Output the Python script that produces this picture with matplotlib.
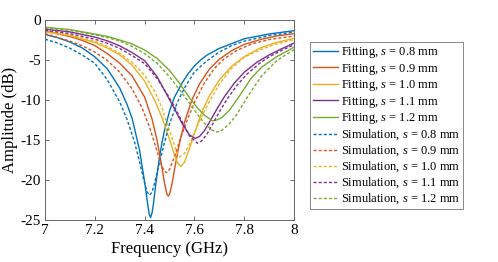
import matplotlib
matplotlib.use("Agg")
import matplotlib.pyplot as plt

plt.rcParams['font.family'] = 'Liberation Serif'
plt.rcParams['mathtext.fontset'] = 'custom'
plt.rcParams['mathtext.rm'] = 'Liberation Serif'
plt.rcParams['mathtext.it'] = 'Liberation Serif:italic'
plt.rcParams['axes.unicode_minus'] = False

# gap values (mm) and MATLAB default colours
gaps = ['0.8', '0.9', '1.0', '1.1', '1.2']
colors = ['#0072BD', '#D95319', '#EDB120', '#7E2F8E', '#77AC30']

# fitting curves (frequency in GHz, amplitude in dB)
fit08_f = [7.0, 7.05, 7.1, 7.15, 7.2, 7.25, 7.3, 7.33, 7.35, 7.365, 7.38, 7.39, 7.40, 7.41, 7.418, 7.424,
           7.43, 7.435, 7.445, 7.46, 7.47, 7.48, 7.50, 7.52, 7.55, 7.575, 7.60, 7.625, 7.65, 7.70, 7.80, 7.90, 8.0]
fit08_db = [-1.8, -2.2, -2.75, -3.5, -4.6, -6.1, -8.5, -10.6, -12.3, -14.3, -16.3, -18.3, -20.2, -22.5, -24.2, -24.7,
            -24.1, -23.1, -20.5, -17.1, -15.3, -13.8, -11.4, -9.65, -7.9, -6.7, -5.75, -5.0, -4.4, -3.55, -2.35, -1.75, -1.33]

fit09_f = [7.0, 7.1, 7.15, 7.2, 7.25, 7.3, 7.35, 7.40, 7.43, 7.45, 7.47, 7.48, 7.49, 7.495, 7.50, 7.51,
           7.52, 7.54, 7.56, 7.59, 7.62, 7.66, 7.70, 7.75, 7.80, 7.87, 7.93, 8.0]
fit09_db = [-1.4, -2.07, -2.55, -3.2, -4.19, -5.4, -7.0, -9.63, -12.4, -15.0, -18.5, -20.4, -21.8, -22.0, -21.8, -20.5,
            -18.7, -15.4, -12.8, -10.0, -8.02, -6.14, -4.91, -3.82, -3.05, -2.4, -2.0, -1.7]

fit10_f = [7.0, 7.1, 7.2, 7.25, 7.3, 7.35, 7.40, 7.44, 7.47, 7.50, 7.52, 7.535, 7.546, 7.56, 7.58, 7.60,
           7.63, 7.66, 7.70, 7.75, 7.80, 7.866, 7.93, 8.0]
fit10_db = [-1.5, -1.95, -2.81, -3.5, -4.36, -5.66, -7.64, -10.0, -12.2, -14.9, -16.9, -18.0, -18.3, -17.8, -16.1, -14.15,
            -11.5, -9.5, -7.5, -5.77, -4.58, -3.47, -2.8, -2.3]

fit11_f = [7.0, 7.1, 7.2, 7.25, 7.3, 7.35, 7.40, 7.45, 7.49, 7.52, 7.55, 7.58, 7.603, 7.62, 7.64, 7.66,
           7.69, 7.72, 7.76, 7.80, 7.85, 7.90, 7.95, 8.0]
fit11_db = [-1.15, -1.49, -2.13, -2.6, -3.23, -4.08, -5.08, -7.08, -9.37, -11.1, -12.9, -14.36, -14.8, -14.57, -13.84, -12.8,
            -11.15, -9.61, -7.9, -6.54, -5.3, -4.37, -3.6, -2.9]

fit12_f = [7.0, 7.1, 7.2, 7.25, 7.3, 7.35, 7.40, 7.45, 7.50, 7.54, 7.58, 7.61, 7.64, 7.672, 7.69, 7.71,
           7.74, 7.77, 7.80, 7.83, 7.87, 7.93, 8.0]
fit12_db = [-0.9, -1.2, -1.75, -2.05, -2.5, -3.0, -3.75, -4.8, -6.3, -7.9, -9.7, -10.9, -11.9, -12.6, -12.5, -12.2,
            -11.3, -10.0, -8.6, -7.2, -5.9, -4.6, -3.4]

# simulation curves
sim08_f = [7.0, 7.05, 7.1, 7.15, 7.2, 7.25, 7.3, 7.33, 7.36, 7.38, 7.40, 7.41, 7.42, 7.43, 7.44, 7.46,
           7.48, 7.50, 7.53, 7.56, 7.60, 7.65, 7.70, 7.75, 7.80, 7.90, 8.0]
sim08_db = [-2.4, -2.87, -3.52, -4.39, -5.41, -7.46, -10.25, -12.46, -15.3, -17.75, -20.4, -21.5, -21.9, -21.5, -20.4, -17.75,
            -15.3, -13.0, -10.4, -8.5, -6.5, -5.1, -4.0, -3.2, -2.65, -1.95, -1.5]

sim09_f = [7.0, 7.1, 7.15, 7.2, 7.25, 7.3, 7.35, 7.39, 7.42, 7.45, 7.47, 7.487, 7.50, 7.52, 7.54, 7.57,
           7.60, 7.64, 7.68, 7.72, 7.77, 7.83, 7.9, 8.0]
sim09_db = [-1.7, -2.65, -3.23, -4.01, -5.06, -6.52, -8.61, -11.0, -13.4, -16.4, -18.4, -19.1, -18.7, -17.1, -15.2, -12.6,
            -10.3, -7.87, -6.06, -4.84, -3.8, -3.0, -2.45, -2.0]

sim10_f = [7.0, 7.1, 7.2, 7.25, 7.3, 7.35, 7.40, 7.44, 7.47, 7.50, 7.52, 7.53, 7.542, 7.56, 7.58, 7.60,
           7.63, 7.66, 7.70, 7.75, 7.80, 7.87, 7.93, 8.0]
sim10_db = [-1.37, -1.85, -2.65, -3.3, -4.15, -5.3, -6.9, -8.9, -11.0, -13.8, -15.7, -16.6, -17.1, -16.7, -15.55, -14.1,
            -12.0, -10.2, -8.02, -6.01, -4.65, -3.65, -3.0, -2.45]

sim11_f = [7.0, 7.1, 7.2, 7.25, 7.3, 7.35, 7.40, 7.45, 7.49, 7.52, 7.55, 7.58, 7.612, 7.63, 7.65, 7.67,
           7.70, 7.73, 7.77, 7.81, 7.86, 7.90, 7.95, 8.0]
sim11_db = [-1.3, -1.7, -2.4, -2.9, -3.55, -4.45, -5.45, -7.3, -9.23, -10.83, -12.68, -14.48, -15.4, -15.1, -14.3, -13.2,
            -11.5, -9.95, -8.2, -6.8, -5.45, -4.6, -3.8, -3.1]

sim12_f = [7.0, 7.1, 7.2, 7.25, 7.3, 7.35, 7.40, 7.45, 7.50, 7.54, 7.58, 7.61, 7.64, 7.67, 7.69, 7.71,
           7.74, 7.77, 7.80, 7.83, 7.87, 7.93, 8.0]
sim12_db = [-1.0, -1.3, -1.85, -2.2, -2.65, -3.3, -4.2, -5.4, -7.1, -8.7, -10.4, -11.7, -12.9, -13.75, -14.0, -13.8,
            -13.0, -11.8, -10.3, -8.8, -7.0, -5.1, -3.7]

fits = [(fit08_f, fit08_db), (fit09_f, fit09_db), (fit10_f, fit10_db), (fit11_f, fit11_db), (fit12_f, fit12_db)]
sims = [(sim08_f, sim08_db), (sim09_f, sim09_db), (sim10_f, sim10_db), (sim11_f, sim11_db), (sim12_f, sim12_db)]

fig = plt.figure(figsize=(4.98, 2.62), dpi=100)
ax = fig.add_axes([45/498, 1-220/262, 249/498, 200/262])

for (f, db), g, c in zip(fits, gaps, colors):
    ax.plot(f, db, color=c, lw=1.0, label='Fitting, $s$ = %s mm' % g)
for (f, db), g, c in zip(sims, gaps, colors):
    ax.plot(f, db, color=c, lw=1.0, linestyle=(0, (2.2, 1.5)), label='Simulation, $s$ = %s mm' % g)

ax.set_xlim(7, 8)
ax.set_ylim(-25, 0)
ax.set_xticks([7, 7.2, 7.4, 7.6, 7.8, 8])
ax.set_xticklabels(['7', '7.2', '7.4', '7.6', '7.8', '8'])
ax.set_yticks([-25, -20, -15, -10, -5, 0])
ax.tick_params(direction='in', top=True, right=True, length=3, width=0.6,
               color='#555555', labelsize=11, pad=3)
for sp in ax.spines.values():
    sp.set_color('#666666')
    sp.set_linewidth(0.7)
ax.set_xlabel('Frequency (GHz)', fontsize=12, labelpad=3)
ax.set_ylabel('Amplitude (dB)', fontsize=12, labelpad=2)

leg = ax.legend(loc='upper left', bbox_to_anchor=(310/498, 1-42/262), bbox_transform=fig.transFigure,
                borderaxespad=0, fontsize=9, handlelength=2.0, handletextpad=0.2, labelspacing=0.12,
                borderpad=0.25, fancybox=False, framealpha=1)
leg.get_frame().set_edgecolor('#888888')
leg.get_frame().set_linewidth(0.7)

fig.savefig('out.png', dpi=100)
